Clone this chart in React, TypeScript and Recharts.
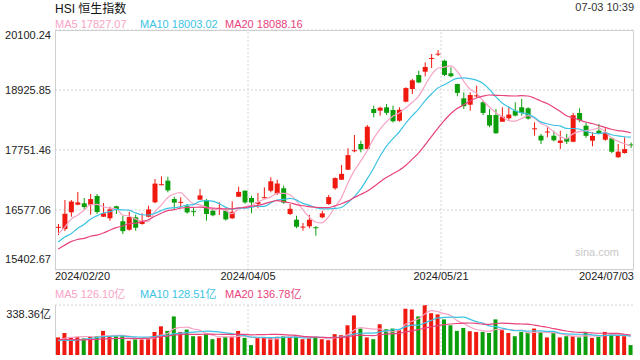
import React from 'react';
import { ComposedChart, Bar, Line, XAxis, YAxis, CartesianGrid, ReferenceLine, Cell } from 'recharts';

// HK trading sessions shown on the chart
const tradingDays: [string, number[]][] = [
  ['02', [20, 21, 22, 23, 26, 27, 28, 29]],
  ['03', [1, 4, 5, 6, 7, 8, 11, 12, 13, 14, 15, 18, 19, 20, 21, 22, 25, 26, 27, 28]],
  ['04', [2, 3, 5, 8, 9, 10, 11, 12, 15, 16, 17, 18, 19, 22, 23, 24, 25, 26, 29, 30]],
  ['05', [2, 3, 6, 7, 8, 9, 10, 13, 14, 16, 17, 20, 21, 22, 23, 24, 27, 28, 29, 30, 31]],
  ['06', [3, 4, 5, 6, 7, 11, 12, 13, 14, 17, 18, 19, 20, 21, 24, 25, 26, 27, 28]],
  ['07', [2, 3]],
];
const dates = tradingDays.flatMap(([m, days]) => days.map((d) => `2024/${m}/${String(d).padStart(2, '0')}`));

const opens = [
  16230, 16205, 16532, 16681, 16708, 16681, 16851, 16446, 16415, 16650,
  16356, 16191, 16434, 16303, 16446, 16728, 17066, 17151, 16792, 16720,
  16650, 16555, 16779, 16773, 16563, 16600, 16563, 16415, 16837, 16955,
  16812, 16695, 16815, 16955, 16890, 17002, 16499, 16387, 16235, 16258,
  16240, 16434, 16695, 17002, 17170, 17366, 17730, 17869, 17771, 18554,
  18521, 18587, 18534, 18325, 18697, 18945, 19219, 19284, 19535, 19625,
  19499, 19253, 19043, 18763, 18638, 18805, 18685, 18436, 18436, 18305,
  18372, 18521, 18587, 18568, 18160, 18031, 18095, 18031, 17889, 17986,
  17914, 18476, 18227, 17934, 18129, 17953, 17980, 17609, 17693, 17860,
];
const highs = [
  16303, 16773, 16773, 16929, 16812, 16890, 16890, 16714, 16642, 16661,
  16465, 16544, 16485, 16512, 16661, 17184, 17237, 17229, 16837, 16826,
  16695, 16630, 16988, 16792, 16610, 16728, 16597, 16747, 17033, 16960,
  16857, 16910, 17021, 17217, 17170, 17053, 16695, 16465, 16323, 16479,
  16260, 16563, 16871, 17217, 17458, 17785, 18045, 17934, 18241, 18619,
  18599, 18652, 18619, 18587, 18979, 19141, 19304, 19468, 19630, 19706,
  19519, 19370, 19050, 18881, 18881, 19010, 18716, 18554, 18554, 18587,
  18587, 18685, 18750, 18587, 18294, 18065, 18196, 18129, 18129, 18065,
  18476, 18568, 18294, 18098, 18261, 18176, 18000, 17869, 18000, 17900,
];
const lows = [
  16088, 16166, 16446, 16670, 16597, 16485, 16500, 16440, 16368, 16499,
  16107, 16172, 16172, 16290, 16434, 16708, 17060, 16923, 16597, 16630,
  16505, 16454, 16775, 16368, 16454, 16479, 16370, 16401, 16830, 16700,
  16512, 16610, 16805, 16923, 16871, 16700, 16479, 16220, 16172, 16219,
  16074, 16415, 16675, 16974, 17165, 17360, 17706, 17706, 17760, 18391,
  18423, 18436, 18290, 18305, 18685, 18848, 19060, 19194, 19356, 19590,
  19200, 19174, 18803, 18554, 18521, 18783, 18436, 18196, 18070, 18300,
  18344, 18410, 18423, 18344, 18031, 17869, 18000, 17920, 17771, 17869,
  17902, 18294, 17990, 17824, 18060, 17934, 17690, 17600, 17680, 17790,
];
const closes = [
  16247.51, 16503.1, 16742.7, 16725.86, 16634.74, 16790.8, 16536.85, 16511.44, 16589.44, 16595.97,
  16162.64, 16438.09, 16229.78, 16353.39, 16587.92, 17093.5, 17082.11, 16961.59, 16720.89, 16737.12,
  16529.48, 16543.07, 16863.1, 16499.47, 16473.64, 16618.32, 16392.84, 16541.42, 16931.52, 16725.1,
  16723.92, 16732.85, 16828.07, 17139.17, 17095.03, 16721.69, 16600.46, 16248.97, 16251.84, 16385.87,
  16224.14, 16511.69, 16828.93, 17201.27, 17284.54, 17651.15, 17746.91, 17763.03, 18207.13, 18475.92,
  18578.3, 18479.37, 18313.86, 18537.81, 18963.68, 19115.06, 19073.71, 19376.53, 19553.61, 19636.22,
  19220.62, 19195.6, 18868.71, 18608.94, 18827.35, 18821.16, 18477.01, 18230.19, 18079.61, 18403.04,
  18444.11, 18424.96, 18476.8, 18366.95, 18176.34, 17937.84, 18112.63, 17941.78, 17936.12, 17915.55,
  18430.39, 18335.32, 18028.52, 18027.71, 18072.9, 18089.93, 17716.47, 17718.61, 17769.14, 17841.2,
];
// turnover, 亿
const volumes = [
  119, 149, 119, 123, 112, 123, 127, 163, 123, 127,
  127, 96, 105, 105, 112, 156, 194, 163, 261, 156,
  172, 127, 127, 141, 107, 116, 123, 123, 163, 116,
  67, 119, 119, 119, 123, 127, 123, 134, 107, 112,
  123, 107, 100, 141, 134, 201, 268, 179, 119, 107,
  208, 174, 179, 168, 313, 308, 261, 338.36, 283, 275,
  241, 201, 163, 183, 161, 156, 156, 149, 241, 168,
  149, 127, 156, 152, 179, 156, 119, 149, 119, 127,
  127, 119, 156, 116, 123, 156, 149, 134, 127, 67,
];

// the 19 sessions before 2024/02/20, only used to seed the moving averages
const priorCloses = [
  14961.18, 15353.98, 15899.87, 16211.96, 15952.23, 16077.24, 15703.45, 15485.07, 15566.21, 15533.56,
  15510.01, 16081.89, 15707.62, 15878.07, 15746.58, 15879.38, 15944.63, 16339.96, 16155.61,
];
const priorVolumes = [105, 140, 150, 120, 105, 95, 90, 100, 95, 105, 115, 125, 90, 80, 50, 85, 90, 110, 100];

const priceTicks = [15402.67, 16577.06, 17751.46, 18925.85, 20100.24];
const volumeMax = 338.36;
const dateTicks = ['2024/02/20', '2024/04/05', '2024/05/21', '2024/07/03'];
const dividerDates = ['2024/04/05', '2024/05/21'];

const RED = '#f0190f';
const GREEN = '#0b9e0b';
const MA5_COLOR = '#f7a3c6';
const MA10_COLOR = '#3cc3e3';
const MA20_COLOR = '#e8437c';
const GRID = '#d4d4d4';
const FONT = 'Arial, "Liberation Sans", "Noto Sans CJK SC", sans-serif';

const priceLegend = [
  { label: 'MA5 17827.07', color: MA5_COLOR },
  { label: 'MA10 18003.02', color: MA10_COLOR },
  { label: 'MA20 18088.16', color: MA20_COLOR },
];
const volumeLegend = [
  { label: 'MA5 126.10亿', color: MA5_COLOR },
  { label: 'MA10 128.51亿', color: MA10_COLOR },
  { label: 'MA20 136.78亿', color: MA20_COLOR },
];

function movingAverage(prior: number[], values: number[], n: number) {
  const all = [...prior, ...values];
  return values.map((_, i) => {
    const end = prior.length + i;
    const win = all.slice(Math.max(0, end - n + 1), end + 1);
    return win.reduce((s, v) => s + v, 0) / win.length;
  });
}

const ma5 = movingAverage(priorCloses, closes, 5);
const ma10 = movingAverage(priorCloses, closes, 10);
const ma20 = movingAverage(priorCloses, closes, 20);
const vma5 = movingAverage(priorVolumes, volumes, 5);
const vma10 = movingAverage(priorVolumes, volumes, 10);
const vma20 = movingAverage(priorVolumes, volumes, 20);

const rows = dates.map((date, i) => ({
  date,
  open: opens[i],
  high: highs[i],
  low: lows[i],
  close: closes[i],
  volume: volumes[i],
  ma5: ma5[i],
  ma10: ma10[i],
  ma20: ma20[i],
  vma5: vma5[i],
  vma10: vma10[i],
  vma20: vma20[i],
}));

// plot box (layout only)
const LEFT = 55;
const RIGHT = 634;
const BAND = (RIGHT - LEFT) / dates.length;

function Candle(props: any) {
  const { x, y, width, height, payload } = props;
  if (!payload || width == null) return null;
  const { open, close, high, low } = payload;
  const color = close >= open ? RED : GREEN;
  const top = Math.min(y, y + height);
  const span = Math.abs(height);
  const k = high === low ? 0 : span / (high - low);
  const yO = top + (high - open) * k;
  const yC = top + (high - close) * k;
  const cx = x + width / 2;
  return (
    <g>
      <line x1={cx} x2={cx} y1={top} y2={top + span} stroke={color} strokeWidth={1} />
      <rect x={x} y={Math.min(yO, yC)} width={width} height={Math.max(Math.abs(yO - yC), 1)} fill={color} />
    </g>
  );
}

function DateTick(props: any) {
  const { x, y, payload } = props;
  const half = payload.offset || BAND / 2;
  let anchor: 'start' | 'middle' | 'end' = 'middle';
  let tx = x - half;
  if (payload.value === dateTicks[0]) anchor = 'start';
  if (payload.value === dateTicks[dateTicks.length - 1]) {
    anchor = 'end';
    tx = x + half;
  }
  return (
    <text x={tx} y={y + 10} textAnchor={anchor} fontSize={11} fill="#222">
      {payload.value}
    </text>
  );
}

function PriceTick(props: any) {
  const { x, y, payload } = props;
  let dy = 4;
  if (payload.value === priceTicks[priceTicks.length - 1]) dy = 8.5;
  if (payload.value === priceTicks[0]) dy = -7;
  return (
    <text x={x} y={y + dy} textAnchor="end" fontSize={11} fill="#222">
      {payload.value.toFixed(2)}
    </text>
  );
}

function VolumeTick(props: any) {
  const { x, y, payload } = props;
  const isTop = payload.value === volumeMax;
  return (
    <text x={x} y={y + (isTop ? 9 : -4)} textAnchor="end" fontSize={11} fill="#222">
      {isTop ? `${volumeMax.toFixed(2)}亿` : '0'}
    </text>
  );
}

export default function App() {
  return (
    <div style={{ position: 'absolute', left: 0, top: 0, width: 640, height: 360, background: '#fff', fontFamily: FONT }}>
      <div style={{ position: 'absolute', left: 0, top: 0 }}>
        <ComposedChart width={640} height={290} data={rows} margin={{ top: 30, right: 640 - RIGHT, bottom: 0, left: 0 }}>
          <CartesianGrid vertical={false} stroke={GRID} strokeDasharray="2 2" />
          <XAxis
            dataKey="date"
            ticks={dateTicks}
            interval={0}
            height={20}
            axisLine={false}
            tickLine={false}
            tickSize={0}
            tickMargin={0}
            tick={<DateTick />}
          />
          <YAxis
            domain={[priceTicks[0], priceTicks[priceTicks.length - 1]]}
            ticks={priceTicks}
            allowDataOverflow
            width={LEFT}
            axisLine={false}
            tickLine={false}
            tickSize={0}
            tickMargin={4}
            tick={<PriceTick />}
          />
          {dividerDates.map((d) => (
            <ReferenceLine key={d} x={d} position="start" stroke={GRID} strokeDasharray="2 2" />
          ))}
          <Bar dataKey={(d: any) => [d.low, d.high]} barSize={5} shape={<Candle />} isAnimationActive={false} />
          <Line type="monotone" dataKey="ma5" stroke={MA5_COLOR} strokeWidth={1.2} dot={false} activeDot={false} isAnimationActive={false} />
          <Line type="monotone" dataKey="ma10" stroke={MA10_COLOR} strokeWidth={1.2} dot={false} activeDot={false} isAnimationActive={false} />
          <Line type="monotone" dataKey="ma20" stroke={MA20_COLOR} strokeWidth={1.2} dot={false} activeDot={false} isAnimationActive={false} />
        </ComposedChart>
      </div>

      <div style={{ position: 'absolute', left: 0, top: 300 }}>
        <ComposedChart width={640} height={60} data={rows} margin={{ top: 5, right: 640 - RIGHT, bottom: 5, left: 0 }}>
          <XAxis dataKey="date" hide />
          <YAxis
            domain={[0, volumeMax]}
            ticks={[0, volumeMax]}
            width={LEFT}
            axisLine={false}
            tickLine={false}
            tickSize={0}
            tickMargin={4}
            tick={<VolumeTick />}
          />
          <ReferenceLine y={volumeMax} stroke={GRID} strokeDasharray="2 2" />
          {dividerDates.map((d) => (
            <ReferenceLine key={d} x={d} position="start" stroke={GRID} strokeDasharray="2 2" />
          ))}
          <Bar dataKey="volume" barSize={4} isAnimationActive={false}>
            {rows.map((r, i) => (
              <Cell key={i} fill={r.close >= r.open ? RED : GREEN} />
            ))}
          </Bar>
          <Line type="monotone" dataKey="vma5" stroke={MA5_COLOR} strokeWidth={1.2} dot={false} activeDot={false} isAnimationActive={false} />
          <Line type="monotone" dataKey="vma10" stroke={MA10_COLOR} strokeWidth={1.2} dot={false} activeDot={false} isAnimationActive={false} />
          <Line type="monotone" dataKey="vma20" stroke={MA20_COLOR} strokeWidth={1.2} dot={false} activeDot={false} isAnimationActive={false} />
        </ComposedChart>
      </div>

      {/* titles, legends, frames */}
      <svg width={640} height={360} style={{ position: 'absolute', left: 0, top: 0, pointerEvents: 'none' }}>
        <text x={LEFT} y={12.5} fontSize={12} fill="#111">HSI 恒生指数</text>
        <text x={RIGHT} y={11} fontSize={11} fill="#333" textAnchor="end">07-03 10:39</text>
        {priceLegend.map((l, i) => (
          <text key={l.label} x={LEFT + i * 85} y={28.3} fontSize={11} fill={l.color}>{l.label}</text>
        ))}
        {volumeLegend.map((l, i) => (
          <text key={l.label} x={LEFT + i * 85} y={297.5} fontSize={11} fill={l.color}>{l.label}</text>
        ))}
        <rect x={LEFT + 0.5} y={30.5} width={RIGHT - LEFT - 1} height={239} fill="none" stroke="#d0d0d0" />
        <line x1={LEFT + 0.5} x2={LEFT + 0.5} y1={305} y2={355} stroke="#d0d0d0" />
        <text x={619} y={256} fontSize={11} fill="#c8c8c8" textAnchor="end">sina.com</text>
      </svg>
    </div>
  );
}
